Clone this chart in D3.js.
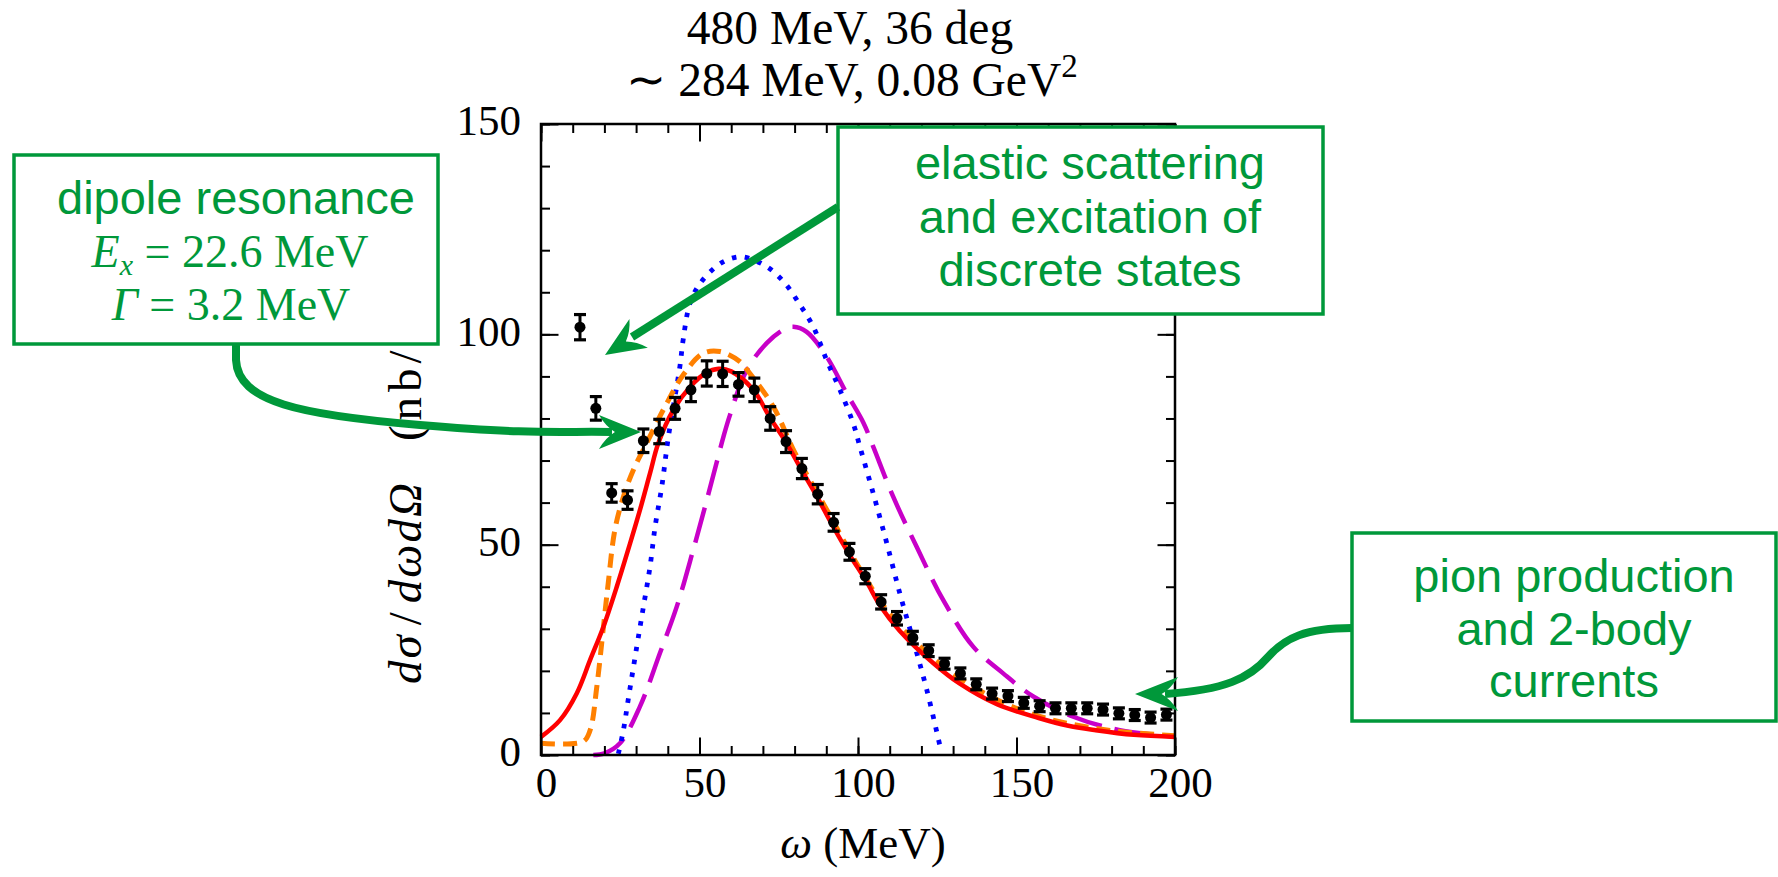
<!DOCTYPE html>
<html lang="en">
<head>
<meta charset="UTF-8">
<title>480 MeV, 36 deg</title>
<script src="https://d3js.org/d3.v7.min.js"></script>
<style>
  body { margin: 0; background: #fff; }
  svg { display: block; }
  .serif { font-family: "Liberation Serif", "Times New Roman", serif; fill: #000; }
  .axis text { font-family: "Liberation Serif", serif; font-size: 43px; fill: #000; }
  .axis line { stroke: #000; stroke-width: 2px; }
  .note { font-family: "Liberation Sans", Arial, sans-serif; font-size: 47px; fill: #00983a; }
  .note-math { font-family: "Liberation Serif", serif; font-size: 46px; fill: #00983a; }
</style>
</head>
<body>
<svg id="canvas" width="1778" height="877"></svg>
<script>
// measured points (omega in MeV, cross section in nb/MeV/sr)
const omegaPts = [12.3, 17.3, 22.3, 27.3, 32.3, 37.3, 42.3, 47.3, 52.3, 57.3, 62.3, 67.3, 72.3, 77.3,
                  82.3, 87.3, 92.3, 97.3, 102.3, 107.3, 112.3, 117.3, 122.3, 127.3, 132.3, 137.3, 142.3,
                  147.3, 152.3, 157.3, 162.3, 167.3, 172.3, 177.3, 182.3, 187.3, 192.3, 197.3];
const sigmaPts = [101.7, 82.4, 62.3, 60.6, 74.7, 76.9, 82.4, 86.8, 90.7, 90.6, 88.1, 86.8, 80.0, 74.5,
                  68.1, 62.0, 55.3, 48.3, 42.5, 36.4, 32.5, 27.9, 24.8, 21.7, 19.4, 16.8, 14.6,
                  14.0, 12.4, 11.6, 11.1, 11.1, 11.1, 10.8, 9.9, 9.5, 8.9, 9.6];
const errPts   = [3.0, 2.8, 2.2, 2.2, 2.8, 2.9, 2.6, 2.8, 3.0, 3.0, 2.8, 2.8, 2.8, 2.6,
                  2.4, 2.3, 2.1, 2.0, 1.8, 1.7, 1.6, 1.5, 1.4, 1.3, 1.3, 1.3, 1.3,
                  1.3, 1.3, 1.3, 1.3, 1.3, 1.3, 1.3, 1.3, 1.3, 1.3, 1.3];

// model curves
const redX = [0, 6, 11.3, 15.5, 19.7, 23.9, 28.1, 31.2, 34.4, 37, 41.7, 47, 52, 56, 60, 67, 72, 77.5,
              82, 87, 92, 97, 102.7, 107, 113.2, 123.8, 132, 144, 157, 166, 175, 187, 200];
const redY = [4.3, 8.3, 14.7, 22.6, 30.5, 40, 50.3, 58.2, 67, 74.1, 82, 87.5, 90.8, 91.8, 91.2, 86.8, 80.5, 74.1,
              68, 61.5, 54.5, 48, 41.2, 35.5, 29.5, 21.8, 17, 12, 8.8, 7.0, 5.9, 4.8, 4.3];

const orangeX = [0, 13.3, 15.5, 17.6, 19.7, 21.2, 23.3, 26, 29.1, 33.3, 39.1, 45, 51.2, 56.5, 62.8, 65.9, 73.3,
                 80, 90, 100, 110, 120, 130, 145, 160, 180, 200];
const orangeY = [2.8, 3.2, 5.9, 16.2, 30.5, 40.8, 53.5, 61.4, 67.7, 74.1, 82.8, 90.5, 95.5, 95.9, 93.5, 90.7, 82.8,
                 72, 58.5, 45, 33.5, 25.5, 19.3, 12.7, 8.6, 5.8, 4.6];

const blueX = [24.4, 26, 27.5, 30.2, 32.3, 34.4, 36, 38.1, 40.2, 43.8, 44.9, 47, 50.2, 55.9, 60.2, 63.8, 71.2,
               77, 81.7, 85.9, 90.1, 94.3, 98.5, 100.6, 104.8, 109.1, 113.2, 117.4, 121.7, 125.9];
const blueY = [0.3, 5.9, 13.1, 25.7, 35.2, 44.8, 54.3, 63.8, 75.7, 92.3, 99, 107.4, 112.1, 116.5, 118.1, 118.4, 116.1,
               112.1, 107, 101.8, 93.9, 86.8, 78.8, 73.3, 62.2, 50.3, 38.4, 27.3, 15.5, 2];

const magentaX = [16.5, 20, 24.9, 31.2, 37.5, 42.8, 48, 52.3, 55.4, 57.5, 59.6, 64.9, 71.2, 77, 79.6, 83.8, 90.1,
                  96.4, 101.7, 104.8, 111.1, 118.5, 126.9, 136.4, 145.8, 155.3, 167.9, 182.6, 199.5];
const magentaY = [0, 0.4, 2.8, 11.5, 24.2, 35.2, 48.7, 60.6, 69.5, 75.5, 80.8, 91.5, 97.9, 101.3, 101.8, 100.6, 94.7,
                  86, 79, 73.3, 61.4, 49.5, 36.8, 25.7, 19.4, 13.9, 9.1, 5.9, 4.4];

const xTicks = [0, 50, 100, 150, 200];
const yTicks = [0, 50, 100, 150];

const green = "#00983a";
const svg = d3.select("#canvas");

const x = d3.scaleLinear().domain([0, 200]).range([541, 1175]);
const y = d3.scaleLinear().domain([0, 150]).range([755, 124]);

// curves
const line = d3.line().x(d => x(d[0])).y(d => y(d[1])).curve(d3.curveCatmullRom.alpha(0.5));
const curves = [
  {xs: redX, ys: redY, color: "#ff0000", dash: null, w: 4.5},
  {xs: orangeX, ys: orangeY, color: "#ff8000", dash: "14 8", w: 5},
  {xs: blueX, ys: blueY, color: "#0000ff", dash: "4.5 8.5", w: 4.8},
  {xs: magentaX, ys: magentaY, color: "#c800c8", dash: "36 13", w: 4.5}
];
// orange sits under red, as in the original
[curves[3], curves[2], curves[1], curves[0]].forEach(c => {
  svg.append("path")
    .datum(d3.zip(c.xs, c.ys))
    .attr("d", line)
    .attr("fill", "none")
    .attr("stroke", c.color)
    .attr("stroke-width", c.w)
    .attr("stroke-dasharray", c.dash);
});

// data points with error bars
const pts = svg.append("g");
const pdata = d3.range(omegaPts.length).map(i => ({w: omegaPts[i], s: sigmaPts[i], e: errPts[i]}));
pts.selectAll("line.bar").data(pdata).join("line")
  .attr("x1", d => x(d.w)).attr("x2", d => x(d.w))
  .attr("y1", d => y(d.s - d.e)).attr("y2", d => y(d.s + d.e))
  .attr("stroke", "#000").attr("stroke-width", 3);
[-1, 1].forEach(sgn => {
  pts.selectAll("line.cap" + sgn).data(pdata).join("line")
    .attr("x1", d => x(d.w) - 6).attr("x2", d => x(d.w) + 6)
    .attr("y1", d => y(d.s + sgn * d.e)).attr("y2", d => y(d.s + sgn * d.e))
    .attr("stroke", "#000").attr("stroke-width", 3.2);
});
pts.selectAll("circle").data(pdata).join("circle")
  .attr("cx", d => x(d.w)).attr("cy", d => y(d.s)).attr("r", 5.5)
  .attr("fill", "#000");

// axes, ticks inward on all four sides
const minorX = d3.range(0, 201, 10), minorY = d3.range(0, 151, 10);
function addAxis(gen, tr, major, minor, labels) {
  const g = svg.append("g").attr("class", "axis").attr("transform", tr);
  g.call(gen.tickValues(minor).tickSize(-9).tickFormat(""));
  g.select(".domain").remove();
  const g2 = svg.append("g").attr("class", "axis").attr("transform", tr);
  g2.call(gen.tickValues(major).tickSize(-17.5).tickFormat(labels ? d3.format("d") : ""));
  g2.select(".domain").remove();
  return g2;
}
const bx = addAxis(d3.axisBottom(x).tickPadding(11), "translate(0,755)", xTicks, minorX, true);
bx.selectAll("text").attr("dx", 5);
addAxis(d3.axisTop(x), "translate(0,124)", xTicks, minorX, false);
const ly = addAxis(d3.axisLeft(y).tickPadding(20), "translate(541,0)", yTicks, minorY, true);
ly.selectAll("text").attr("dy", "0.25em");
addAxis(d3.axisRight(y), "translate(1175,0)", yTicks, minorY, false);

svg.append("rect")
  .attr("x", 541).attr("y", 124).attr("width", 634).attr("height", 631)
  .attr("fill", "none").attr("stroke", "#000").attr("stroke-width", 2.5);

// titles
svg.append("text").attr("class", "serif").attr("x", 850).attr("y", 44)
  .attr("text-anchor", "middle").style("font-size", "47.5px").text("480 MeV, 36 deg");
const t2 = svg.append("text").attr("class", "serif").attr("x", 852).attr("y", 96)
  .attr("text-anchor", "middle").style("font-size", "47.5px");
t2.append("tspan").text("\u223C 284 MeV, 0.08 GeV");
t2.append("tspan").attr("dy", -19).style("font-size", "33px").text("2");

// axis labels
const xl = svg.append("text").attr("class", "serif").attr("x", 863).attr("y", 858)
  .attr("text-anchor", "middle").style("font-size", "45px");
xl.append("tspan").style("font-style", "italic").text("\u03C9");
xl.append("tspan").text(" (MeV)");

const yl = svg.append("text").attr("class", "serif")
  .attr("transform", "translate(421,684) rotate(-90)").style("font-size", "47px");
yl.append("tspan").style("font-style", "italic").style("letter-spacing", "2px").text("d\u03C3");
yl.append("tspan").attr("dx", 8).text("/");
yl.append("tspan").attr("dx", 9).style("font-style", "italic").style("letter-spacing", "2px").text("d\u03C9d\u03A9");
yl.append("tspan").attr("dx", 40).style("letter-spacing", "5px").text("(nb/MeV/sr)");

// annotation boxes
function box(x0, y0, w, h) {
  svg.append("rect").attr("x", x0).attr("y", y0).attr("width", w).attr("height", h)
    .attr("fill", "#fff").attr("stroke", green).attr("stroke-width", 3.5);
}
box(14, 155, 424, 189);
box(838, 127, 485, 187);
box(1352, 533, 424, 188);

svg.append("text").attr("class", "note").attr("x", 236).attr("y", 214)
  .attr("text-anchor", "middle").text("dipole resonance");
const ex = svg.append("text").attr("class", "note-math").attr("x", 230).attr("y", 267)
  .attr("text-anchor", "middle");
ex.append("tspan").style("font-style", "italic").text("E");
ex.append("tspan").style("font-style", "italic").style("font-size", "30px").attr("dy", 8).text("x");
ex.append("tspan").attr("dy", -8).text(" = 22.6 MeV");
const gm = svg.append("text").attr("class", "note-math").attr("x", 231).attr("y", 320)
  .attr("text-anchor", "middle");
gm.append("tspan").style("font-style", "italic").text("\u0393");
gm.append("tspan").text(" = 3.2 MeV");

const lines2 = ["elastic scattering", "and excitation of", "discrete states"];
const lines3 = ["pion production", "and 2-body", "currents"];
lines2.forEach((s, i) => svg.append("text").attr("class", "note").attr("x", 1090)
  .attr("y", 179 + i * 53.5).attr("text-anchor", "middle").text(s));
lines3.forEach((s, i) => svg.append("text").attr("class", "note").attr("x", 1574)
  .attr("y", 592 + i * 52.5).attr("text-anchor", "middle").text(s));

// arrows
function arrow(d, tip, ang, len, hw) {
  svg.append("path").attr("d", d).attr("fill", "none")
    .attr("stroke", green).attr("stroke-width", 8);
  const c = Math.cos(ang), s = Math.sin(ang);
  const p = (u, v) => [tip[0] + u * c - v * s, tip[1] + u * s + v * c];
  const a = p(-len, -hw), b = p(-len, hw), m = p(-len * 0.62, 0);
  const q1 = p(-len * 0.85, -hw * 0.35), q2 = p(-len * 0.85, hw * 0.35);
  svg.append("path")
    .attr("d", `M${tip}L${a}Q${q1} ${m}Q${q2} ${b}Z`)
    .attr("fill", green);
}
arrow("M838,207L632,337", [605, 355], Math.atan2(150, -233), 40, 17);
arrow("M236,344L236,360C238,402 300,415 420,425S560,431 612,432", [641, 432], 0, 42, 17);
arrow("M1352,628C1305,628 1285,638 1268,657C1250,678 1225,690 1165,694", [1135, 694], Math.PI, 43, 17);
</script>
</body>
</html>
